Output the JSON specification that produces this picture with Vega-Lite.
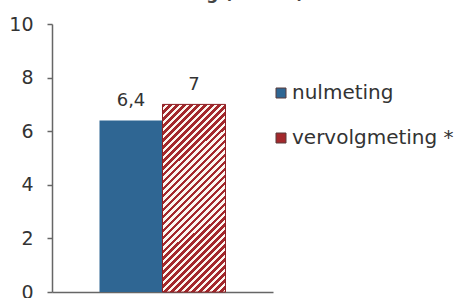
{
  "$schema": "https://vega.github.io/schema/vega-lite/v6.json",
  "width": 221,
  "height": 268,
  "autosize": {"type": "none"},
  "padding": {"left": 52, "top": 24, "right": 185, "bottom": 6},
  "background": "white",
  "title": {
    "text": "meting (N=183)",
    "font": "DejaVu Sans",
    "fontSize": 17,
    "fontWeight": "bold",
    "color": "#444",
    "anchor": "middle",
    "baseline": "alphabetic",
    "dx": 65,
    "dy": 3,
    "offset": 2
  },
  "data": {
    "values": [
      {"meting": "nulmeting", "waarde": 6.4},
      {"meting": "vervolgmeting", "waarde": 7}
    ]
  },
  "encoding": {
    "x": {
      "field": "meting",
      "type": "nominal",
      "sort": ["nulmeting", "vervolgmeting"],
      "scale": {"paddingInner": 0, "paddingOuter": 0.754},
      "axis": {"labels": false, "ticks": false, "title": null, "domainColor": "#666", "domainWidth": 1.5}
    },
    "y": {
      "field": "waarde",
      "type": "quantitative",
      "scale": {"domain": [0, 10], "nice": false},
      "axis": {
        "values": [0, 2, 4, 6, 8, 10],
        "title": null,
        "grid": false,
        "domainColor": "#666",
        "domainWidth": 1.5,
        "tickColor": "#666",
        "tickWidth": 1.5,
        "tickSize": 5,
        "labelFont": "DejaVu Sans",
        "labelFontSize": 19,
        "labelColor": "#333",
        "labelPadding": 14
      }
    }
  },
  "layer": [
    {
      "mark": {"type": "bar"},
      "encoding": {
        "color": {
          "field": "meting",
          "type": "nominal",
          "scale": {"domain": ["nulmeting", "vervolgmeting"], "range": ["#2f6693", "#a3282c"]},
          "legend": {
            "orient": "none",
            "legendX": 219,
            "legendY": 59,
            "title": null,
            "padding": 0,
            "symbolType": "square",
            "symbolSize": 100,
            "symbolStrokeWidth": 1,
            "symbolStrokeColor": "#5a3a3a",
            "labelFont": "DejaVu Sans",
            "labelFontSize": 20,
            "labelColor": "#333",
            "labelOffset": 1,
            "labelLimit": 300,
            "rowPadding": 25,
            "labelExpr": "datum.label == 'vervolgmeting' ? 'vervolgmeting  *' : datum.label"
          }
        }
      }
    },
    {
      "transform": [{"filter": "datum.meting === 'vervolgmeting'"}],
      "mark": {
        "type": "bar",
        "stroke": "#8e2025",
        "strokeWidth": 1,
        "fill": {
          "gradient": "linear",
          "x1": 0, "y1": 0, "x2": 0.4022, "y2": 1.2004,
          "stops": [
            {"offset": 0, "color": "#a3282c"}, {"offset": 0.0139, "color": "#a3282c"}, {"offset": 0.0139, "color": "#fbf6f0"}, {"offset": 0.0278, "color": "#fbf6f0"},
            {"offset": 0.0278, "color": "#a3282c"}, {"offset": 0.0417, "color": "#a3282c"}, {"offset": 0.0417, "color": "#fbf6f0"}, {"offset": 0.0556, "color": "#fbf6f0"},
            {"offset": 0.0556, "color": "#a3282c"}, {"offset": 0.0694, "color": "#a3282c"}, {"offset": 0.0694, "color": "#fbf6f0"}, {"offset": 0.0833, "color": "#fbf6f0"},
            {"offset": 0.0833, "color": "#a3282c"}, {"offset": 0.0972, "color": "#a3282c"}, {"offset": 0.0972, "color": "#fbf6f0"}, {"offset": 0.1111, "color": "#fbf6f0"},
            {"offset": 0.1111, "color": "#a3282c"}, {"offset": 0.125, "color": "#a3282c"}, {"offset": 0.125, "color": "#fbf6f0"}, {"offset": 0.1389, "color": "#fbf6f0"},
            {"offset": 0.1389, "color": "#a3282c"}, {"offset": 0.1528, "color": "#a3282c"}, {"offset": 0.1528, "color": "#fbf6f0"}, {"offset": 0.1667, "color": "#fbf6f0"},
            {"offset": 0.1667, "color": "#a3282c"}, {"offset": 0.1806, "color": "#a3282c"}, {"offset": 0.1806, "color": "#fbf6f0"}, {"offset": 0.1944, "color": "#fbf6f0"},
            {"offset": 0.1944, "color": "#a3282c"}, {"offset": 0.2083, "color": "#a3282c"}, {"offset": 0.2083, "color": "#fbf6f0"}, {"offset": 0.2222, "color": "#fbf6f0"},
            {"offset": 0.2222, "color": "#a3282c"}, {"offset": 0.2361, "color": "#a3282c"}, {"offset": 0.2361, "color": "#fbf6f0"}, {"offset": 0.25, "color": "#fbf6f0"},
            {"offset": 0.25, "color": "#a3282c"}, {"offset": 0.2639, "color": "#a3282c"}, {"offset": 0.2639, "color": "#fbf6f0"}, {"offset": 0.2778, "color": "#fbf6f0"},
            {"offset": 0.2778, "color": "#a3282c"}, {"offset": 0.2917, "color": "#a3282c"}, {"offset": 0.2917, "color": "#fbf6f0"}, {"offset": 0.3056, "color": "#fbf6f0"},
            {"offset": 0.3056, "color": "#a3282c"}, {"offset": 0.3194, "color": "#a3282c"}, {"offset": 0.3194, "color": "#fbf6f0"}, {"offset": 0.3333, "color": "#fbf6f0"},
            {"offset": 0.3333, "color": "#a3282c"}, {"offset": 0.3472, "color": "#a3282c"}, {"offset": 0.3472, "color": "#fbf6f0"}, {"offset": 0.3611, "color": "#fbf6f0"},
            {"offset": 0.3611, "color": "#a3282c"}, {"offset": 0.375, "color": "#a3282c"}, {"offset": 0.375, "color": "#fbf6f0"}, {"offset": 0.3889, "color": "#fbf6f0"},
            {"offset": 0.3889, "color": "#a3282c"}, {"offset": 0.4028, "color": "#a3282c"}, {"offset": 0.4028, "color": "#fbf6f0"}, {"offset": 0.4167, "color": "#fbf6f0"},
            {"offset": 0.4167, "color": "#a3282c"}, {"offset": 0.4306, "color": "#a3282c"}, {"offset": 0.4306, "color": "#fbf6f0"}, {"offset": 0.4444, "color": "#fbf6f0"},
            {"offset": 0.4444, "color": "#a3282c"}, {"offset": 0.4583, "color": "#a3282c"}, {"offset": 0.4583, "color": "#fbf6f0"}, {"offset": 0.4722, "color": "#fbf6f0"},
            {"offset": 0.4722, "color": "#a3282c"}, {"offset": 0.4861, "color": "#a3282c"}, {"offset": 0.4861, "color": "#fbf6f0"}, {"offset": 0.5, "color": "#fbf6f0"},
            {"offset": 0.5, "color": "#a3282c"}, {"offset": 0.5139, "color": "#a3282c"}, {"offset": 0.5139, "color": "#fbf6f0"}, {"offset": 0.5278, "color": "#fbf6f0"},
            {"offset": 0.5278, "color": "#a3282c"}, {"offset": 0.5417, "color": "#a3282c"}, {"offset": 0.5417, "color": "#fbf6f0"}, {"offset": 0.5556, "color": "#fbf6f0"},
            {"offset": 0.5556, "color": "#a3282c"}, {"offset": 0.5694, "color": "#a3282c"}, {"offset": 0.5694, "color": "#fbf6f0"}, {"offset": 0.5833, "color": "#fbf6f0"},
            {"offset": 0.5833, "color": "#a3282c"}, {"offset": 0.5972, "color": "#a3282c"}, {"offset": 0.5972, "color": "#fbf6f0"}, {"offset": 0.6111, "color": "#fbf6f0"},
            {"offset": 0.6111, "color": "#a3282c"}, {"offset": 0.625, "color": "#a3282c"}, {"offset": 0.625, "color": "#fbf6f0"}, {"offset": 0.6389, "color": "#fbf6f0"},
            {"offset": 0.6389, "color": "#a3282c"}, {"offset": 0.6528, "color": "#a3282c"}, {"offset": 0.6528, "color": "#fbf6f0"}, {"offset": 0.6667, "color": "#fbf6f0"},
            {"offset": 0.6667, "color": "#a3282c"}, {"offset": 0.6806, "color": "#a3282c"}, {"offset": 0.6806, "color": "#fbf6f0"}, {"offset": 0.6944, "color": "#fbf6f0"},
            {"offset": 0.6944, "color": "#a3282c"}, {"offset": 0.7083, "color": "#a3282c"}, {"offset": 0.7083, "color": "#fbf6f0"}, {"offset": 0.7222, "color": "#fbf6f0"},
            {"offset": 0.7222, "color": "#a3282c"}, {"offset": 0.7361, "color": "#a3282c"}, {"offset": 0.7361, "color": "#fbf6f0"}, {"offset": 0.75, "color": "#fbf6f0"},
            {"offset": 0.75, "color": "#a3282c"}, {"offset": 0.7639, "color": "#a3282c"}, {"offset": 0.7639, "color": "#fbf6f0"}, {"offset": 0.7778, "color": "#fbf6f0"},
            {"offset": 0.7778, "color": "#a3282c"}, {"offset": 0.7917, "color": "#a3282c"}, {"offset": 0.7917, "color": "#fbf6f0"}, {"offset": 0.8056, "color": "#fbf6f0"},
            {"offset": 0.8056, "color": "#a3282c"}, {"offset": 0.8194, "color": "#a3282c"}, {"offset": 0.8194, "color": "#fbf6f0"}, {"offset": 0.8333, "color": "#fbf6f0"},
            {"offset": 0.8333, "color": "#a3282c"}, {"offset": 0.8472, "color": "#a3282c"}, {"offset": 0.8472, "color": "#fbf6f0"}, {"offset": 0.8611, "color": "#fbf6f0"},
            {"offset": 0.8611, "color": "#a3282c"}, {"offset": 0.875, "color": "#a3282c"}, {"offset": 0.875, "color": "#fbf6f0"}, {"offset": 0.8889, "color": "#fbf6f0"},
            {"offset": 0.8889, "color": "#a3282c"}, {"offset": 0.9028, "color": "#a3282c"}, {"offset": 0.9028, "color": "#fbf6f0"}, {"offset": 0.9167, "color": "#fbf6f0"},
            {"offset": 0.9167, "color": "#a3282c"}, {"offset": 0.9306, "color": "#a3282c"}, {"offset": 0.9306, "color": "#fbf6f0"}, {"offset": 0.9444, "color": "#fbf6f0"},
            {"offset": 0.9444, "color": "#a3282c"}, {"offset": 0.9583, "color": "#a3282c"}, {"offset": 0.9583, "color": "#fbf6f0"}, {"offset": 0.9722, "color": "#fbf6f0"},
            {"offset": 0.9722, "color": "#a3282c"}, {"offset": 0.9861, "color": "#a3282c"}, {"offset": 0.9861, "color": "#fbf6f0"}, {"offset": 1, "color": "#fbf6f0"}
          ]
        }
      },
      "encoding": {}
    },
    {
      "mark": {"type": "text", "baseline": "alphabetic", "dy": -14, "font": "DejaVu Sans", "fontSize": 18, "color": "#333"},
      "encoding": {
        "text": {"field": "waarde", "type": "quantitative", "format": ".1~f"}
      }
    }
  ],
  "config": {
    "view": {"stroke": null},
    "locale": {"number": {"decimal": ",", "thousands": ".", "grouping": [3], "currency": ["€", ""]}}
  }
}
